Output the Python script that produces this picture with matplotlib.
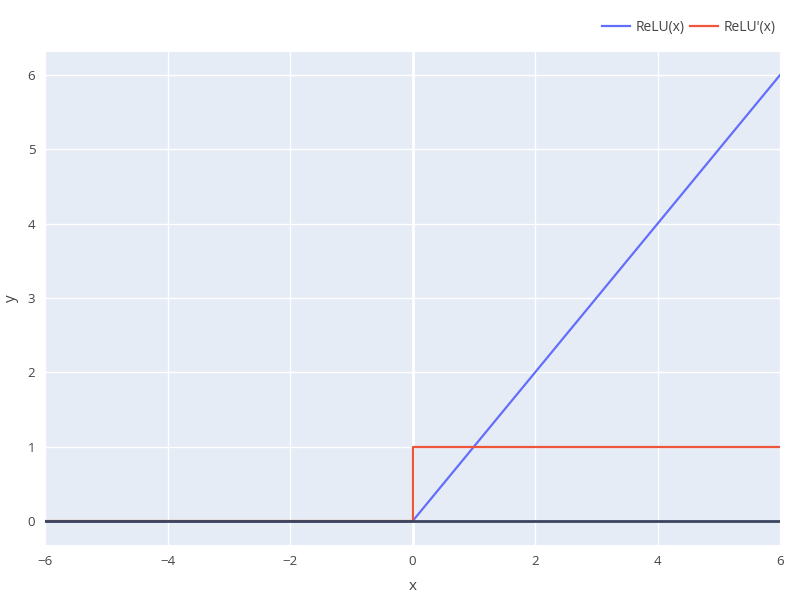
import matplotlib
matplotlib.use("Agg")
import matplotlib.pyplot as plt

# ---------- data ----------
relu_x = [-6, 0, 6]
relu_y = [0, 0, 6]
drelu_x = [-6, 0, 0, 6]
drelu_y = [0, 0, 1, 1]

X_TICKS = [-6, -4, -2, 0, 2, 4, 6]
Y_TICKS = [0, 1, 2, 3, 4, 5, 6]

TICK = "#444444"
plt.rcParams["font.family"] = ["Open Sans", "DejaVu Sans"]

fig = plt.figure(figsize=(8, 6), dpi=100)
ax = fig.add_axes([45 / 800, 55 / 600, 735 / 800, 493 / 600])
ax.set_facecolor("#e5ecf6")
for s in ax.spines.values():
    s.set_visible(False)

ax.set_xlim(-6, 6)
ax.set_ylim(-0.32, 6.31)
ax.set_xticks(X_TICKS)
ax.set_xticklabels([f"{t}".replace("-", "\u2212") for t in X_TICKS])
ax.set_yticks(Y_TICKS)
ax.grid(color="white", linewidth=1)
ax.set_axisbelow(True)
ax.axvline(0, color="white", linewidth=2, zorder=1)
ax.tick_params(length=0, labelsize=9.5, labelcolor=TICK, pad=7)

l1, = ax.plot(relu_x, relu_y, color="#636efa", linewidth=1.6, label="ReLU(x)", zorder=3)
l2, = ax.plot(drelu_x, drelu_y, color="#EF553B", linewidth=1.6, label="ReLU'(x)", zorder=4)
ax.axhline(0, color="#3a4560", linewidth=2, zorder=5)

ax.set_xlabel("x", fontsize=11, color=TICK, labelpad=8)
ax.set_ylabel("y", fontsize=11, color=TICK)
ax.yaxis.set_label_coords(-0.036, 0.5)

fig.legend(handles=[l1, l2], loc="center right", bbox_to_anchor=(0.985, 0.955),
           ncol=2, frameon=False, fontsize=10, labelcolor=TICK,
           handlelength=2.0, columnspacing=0.4, handletextpad=0.4)

fig.savefig("out.png", dpi=100)
